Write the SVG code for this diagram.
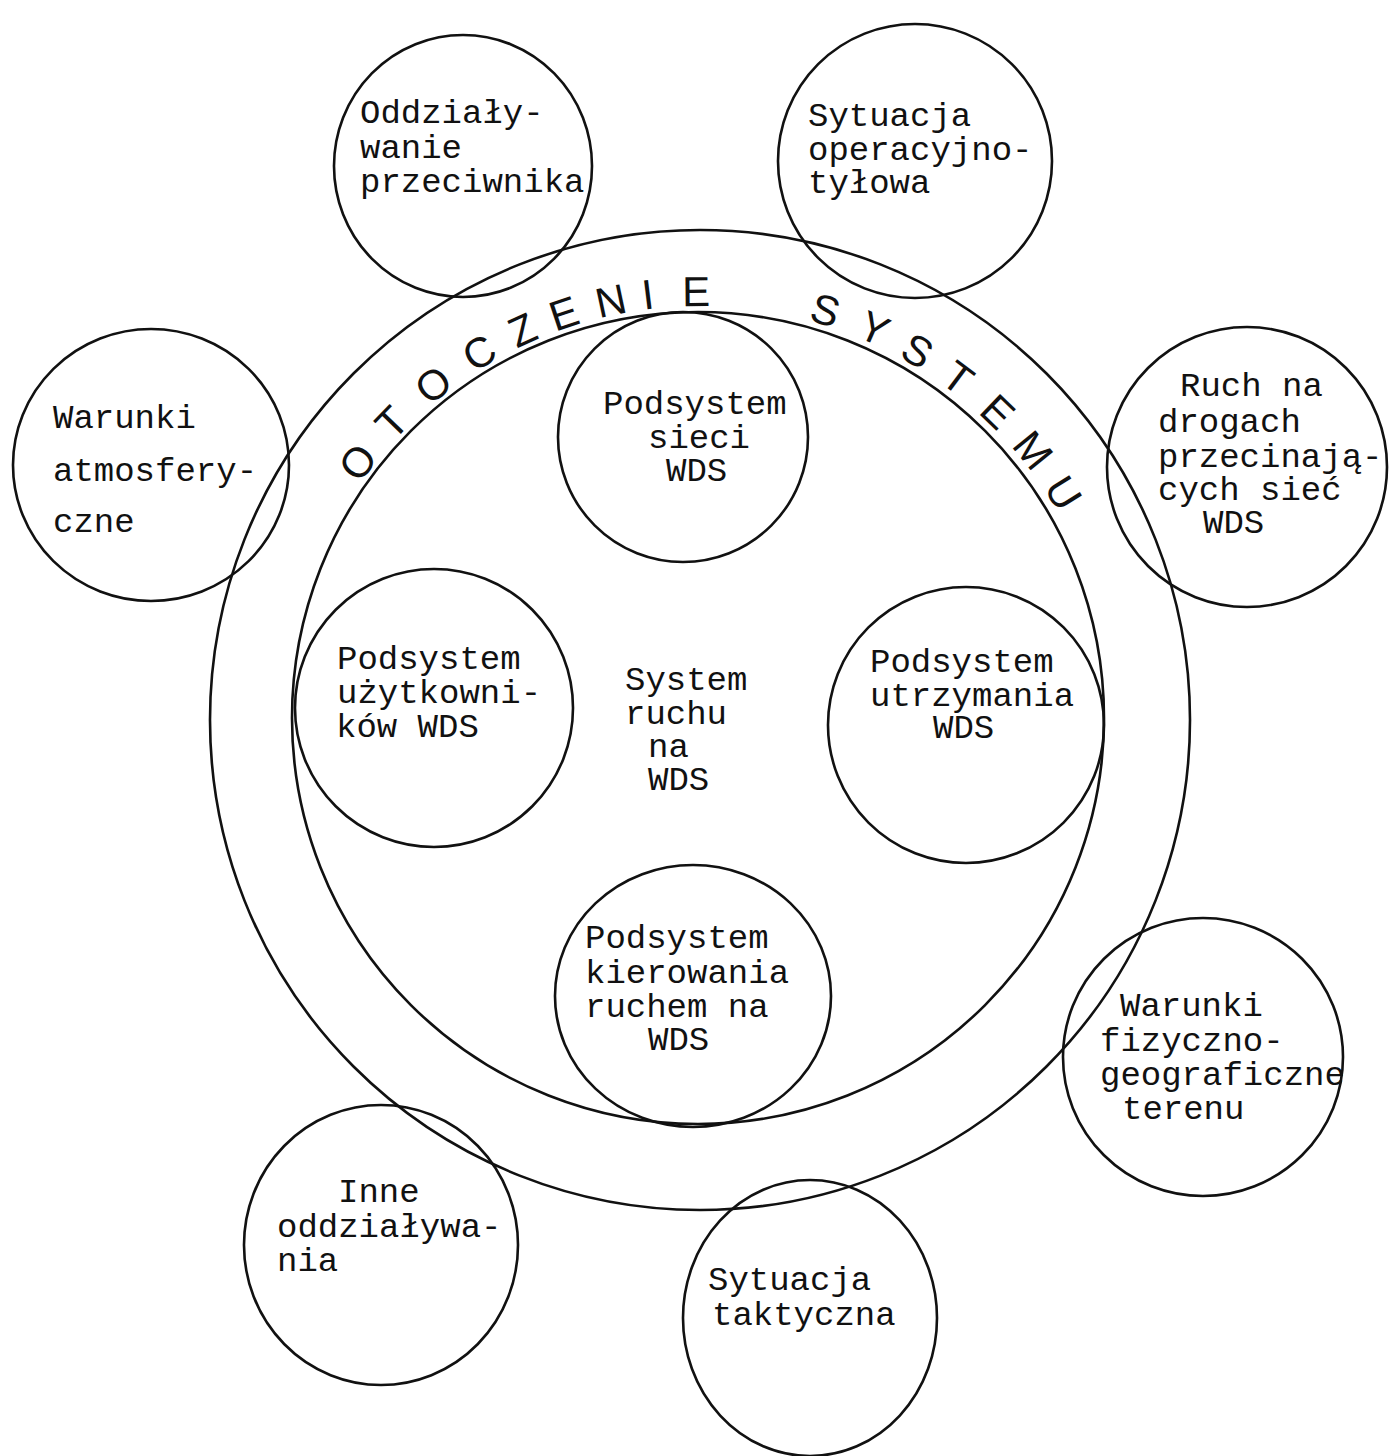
<svg xmlns="http://www.w3.org/2000/svg" width="1390" height="1456" viewBox="0 0 1390 1456">
<style>
.c{fill:none;stroke:#111;stroke-width:2.6}
.t{font-family:"Liberation Mono","Courier New",monospace;font-size:34px;fill:#111}
.r{font-family:"Liberation Sans","DejaVu Sans",sans-serif;font-size:42px;fill:#111;text-anchor:middle}
</style>
<rect width="1390" height="1456" fill="#fff"/>
<g id="otoczenie-systemu">
<circle class="c" cx="700" cy="720" r="490"/>
<g id="ring-label">
<text class="r" x="700" y="306" transform="rotate(-53 700 720)">O</text>
<text class="r" x="700" y="306" transform="rotate(-46 700 720)">T</text>
<text class="r" x="700" y="306" transform="rotate(-38.5 700 720)">O</text>
<text class="r" x="700" y="306" transform="rotate(-31 700 720)">C</text>
<text class="r" x="700" y="306" transform="rotate(-24.5 700 720)">Z</text>
<text class="r" x="700" y="306" transform="rotate(-18.5 700 720)">E</text>
<text class="r" x="700" y="306" transform="rotate(-12 700 720)">N</text>
<text class="r" x="700" y="306" transform="rotate(-7 700 720)">I</text>
<text class="r" x="700" y="306" transform="rotate(-0.5 700 720)">E</text>
<text class="r" x="700" y="306" transform="rotate(17 700 720)">S</text>
<text class="r" x="700" y="306" transform="rotate(24 700 720)">Y</text>
<text class="r" x="700" y="306" transform="rotate(30.5 700 720)">S</text>
<text class="r" x="700" y="306" transform="rotate(37 700 720)">T</text>
<text class="r" x="700" y="306" transform="rotate(44 700 720)">E</text>
<text class="r" x="700" y="306" transform="rotate(51 700 720)">M</text>
<text class="r" x="700" y="306" transform="rotate(58 700 720)">U</text>
</g>
</g>
<g id="system-ruchu">
<circle class="c" cx="698" cy="718" r="406"/>
<text class="t"><tspan x="625" y="690">System</tspan><tspan x="625" y="724">ruchu</tspan><tspan x="648" y="757">na</tspan><tspan x="648" y="790">WDS</tspan></text>
</g>
<g id="oddzialywanie-przeciwnika">
<ellipse class="c" cx="463" cy="166" rx="129" ry="131"/>
<text class="t"><tspan x="360" y="123">Oddziały-</tspan><tspan x="360" y="158">wanie</tspan><tspan x="360" y="192">przeciwnika</tspan></text>
</g>
<g id="sytuacja-operacyjno-tylowa">
<circle class="c" cx="915" cy="161" r="137"/>
<text class="t"><tspan x="808" y="126">Sytuacja</tspan><tspan x="808" y="160">operacyjno-</tspan><tspan x="808" y="193">tyłowa</tspan></text>
</g>
<g id="warunki-atmosferyczne">
<ellipse class="c" cx="151" cy="465" rx="138" ry="136"/>
<text class="t"><tspan x="53" y="428">Warunki</tspan><tspan x="53" y="481">atmosfery-</tspan><tspan x="53" y="532">czne</tspan></text>
</g>
<g id="ruch-na-drogach">
<circle class="c" cx="1247" cy="467" r="140"/>
<text class="t"><tspan x="1180" y="396">Ruch na</tspan><tspan x="1158" y="432">drogach</tspan><tspan x="1158" y="467">przecinają-</tspan><tspan x="1158" y="500">cych sieć</tspan><tspan x="1203" y="533">WDS</tspan></text>
</g>
<g id="podsystem-sieci">
<circle class="c" cx="683" cy="437" r="125"/>
<text class="t"><tspan x="603" y="414">Podsystem</tspan><tspan x="648" y="448">sieci</tspan><tspan x="666" y="481">WDS</tspan></text>
</g>
<g id="podsystem-uzytkownikow">
<circle class="c" cx="434" cy="708" r="139"/>
<text class="t"><tspan x="337" y="669">Podsystem</tspan><tspan x="337" y="703">użytkowni-</tspan><tspan x="336" y="737">ków WDS</tspan></text>
</g>
<g id="podsystem-utrzymania">
<circle class="c" cx="966" cy="725" r="138"/>
<text class="t"><tspan x="870" y="672">Podsystem</tspan><tspan x="870" y="706">utrzymania</tspan><tspan x="933" y="738">WDS</tspan></text>
</g>
<g id="podsystem-kierowania">
<ellipse class="c" cx="693" cy="996" rx="138" ry="131"/>
<text class="t"><tspan x="585" y="948">Podsystem</tspan><tspan x="585" y="983">kierowania</tspan><tspan x="585" y="1017">ruchem na</tspan><tspan x="648" y="1050">WDS</tspan></text>
</g>
<g id="warunki-fizyczno-geograficzne">
<ellipse class="c" cx="1203" cy="1057" rx="140" ry="139"/>
<text class="t"><tspan x="1120" y="1016">Warunki</tspan><tspan x="1100" y="1051">fizyczno-</tspan><tspan x="1100" y="1085">geograficzne</tspan><tspan x="1122" y="1119">terenu</tspan></text>
</g>
<g id="inne-oddzialywania">
<ellipse class="c" cx="381" cy="1245" rx="137" ry="140"/>
<text class="t"><tspan x="338" y="1202">Inne</tspan><tspan x="277" y="1237">oddziaływa-</tspan><tspan x="277" y="1271">nia</tspan></text>
</g>
<g id="sytuacja-taktyczna">
<ellipse class="c" cx="810" cy="1318" rx="127" ry="138"/>
<text class="t"><tspan x="708" y="1290">Sytuacja</tspan><tspan x="712" y="1325">taktyczna</tspan></text>
</g>
<g id="connectors"/>
</svg>
